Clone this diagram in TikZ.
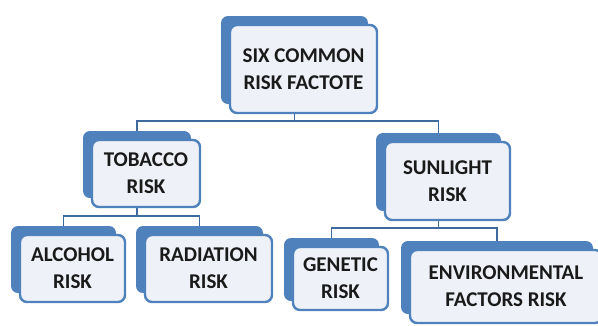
\documentclass[tikz,border=0pt]{standalone}
\usepackage{fontspec}
\setmainfont{Carlito}
\usetikzlibrary{positioning,shadows,backgrounds}
\definecolor{riskblue}{HTML}{4F81BD}
\definecolor{riskfill}{HTML}{EEF1F7}
\definecolor{risktext}{HTML}{1A1A1A}
\definecolor{linkblue}{HTML}{3E6A9E}

\begin{document}
\begin{tikzpicture}[
    x=1pt, y=-1pt,
    risk/.style={rectangle, rounded corners=7pt, draw=riskblue, fill=riskfill, line width=2.4pt, inner sep=0pt, align=center, text=risktext, font=\bfseries\fontsize{21}{27}\selectfont, general shadow={fill=riskblue, shadow xshift=-9pt, shadow yshift=9pt}},
    link/.style={draw=linkblue, line width=1.6pt}
]
\useasboundingbox (0,0) rectangle (598,325);

% Top - root
\node[risk, minimum width=147pt, minimum height=88pt] (root) at (303.5,69) {SIX COMMON\\RISK FACTOTE};

% Second level
\node[risk, minimum width=108pt, minimum height=67pt] (tobacco) at (146,173.5) {TOBACCO\\RISK};
\node[risk, minimum width=125pt, minimum height=78pt] (sunlight) at (447.5,181) {SUNLIGHT\\RISK};

% Third level
\node[risk, minimum width=105pt, minimum height=67pt] (alcohol) at (72.5,268.5) {ALCOHOL\\RISK};
\node[risk, minimum width=127pt, minimum height=67pt] (radiation) at (208.5,268.5) {RADIATION\\RISK};
\node[risk, minimum width=95pt, minimum height=63pt] (genetic) at (340.5,278.5) {GENETIC\\RISK};
\node[risk, minimum width=192pt, minimum height=73pt] (environ) at (506,286.5) {ENVIRONMENTAL\\FACTORS RISK};

% Connectors
\begin{scope}[on background layer]
\draw[link] ([xshift=-9pt]root.south) -- ++(0,7) -| ([xshift=-9pt]tobacco.north);
\draw[link] ([xshift=-9pt]root.south) -- ++(0,7) -| ([xshift=-9pt]sunlight.north);
\draw[link] ([xshift=-9pt]tobacco.south) -- ++(0,8) -| ([xshift=-9pt]alcohol.north);
\draw[link] ([xshift=-9pt]tobacco.south) -- ++(0,8) -| ([xshift=-9pt]radiation.north);
\draw[link] ([xshift=-9pt]sunlight.south) -- ++(0,7) -| ([xshift=-9pt]genetic.north);
\draw[link] ([xshift=-9pt]sunlight.south) -- ++(0,7) -| ([xshift=-9pt]environ.north);
\end{scope}

\end{tikzpicture}
\end{document}
